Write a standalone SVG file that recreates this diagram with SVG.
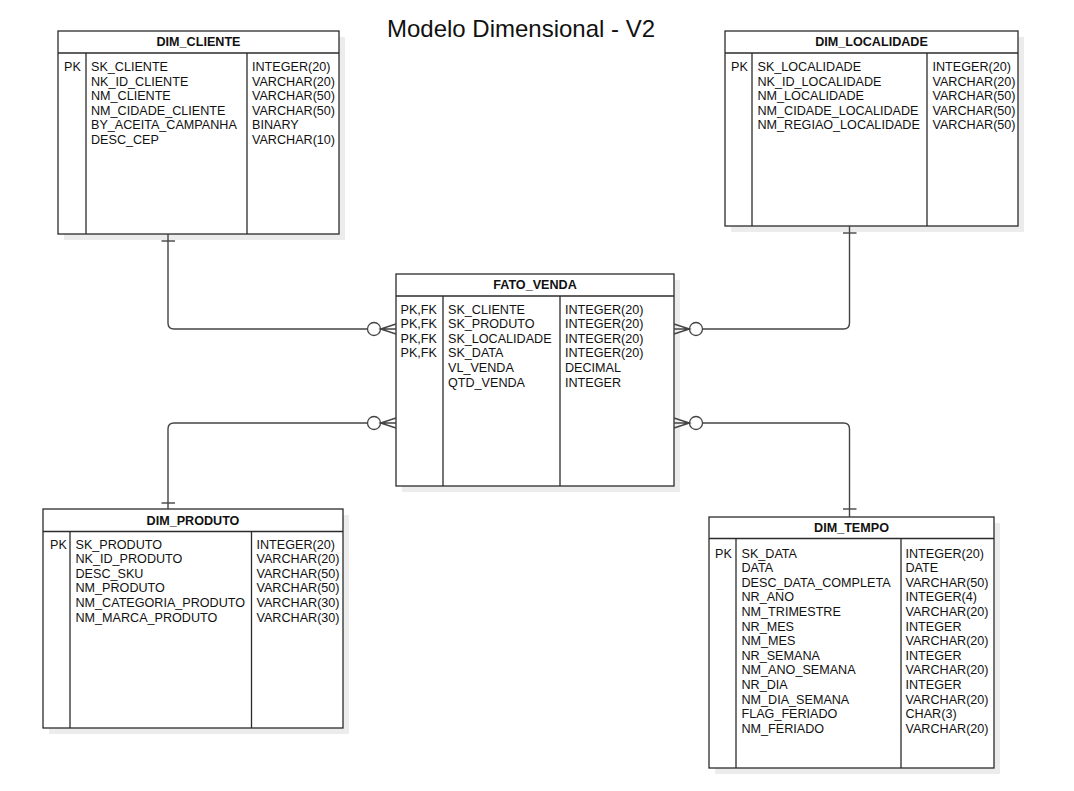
<svg xmlns="http://www.w3.org/2000/svg" width="1074" height="791" viewBox="0 0 1074 791">
<style>
.shadow{fill:#ececec;}
.box{fill:#ffffff;stroke:#2b2b2b;stroke-width:1.3;}
.div{stroke:#2b2b2b;stroke-width:1.3;fill:none;}
.hdr{font-family:"Liberation Sans",Arial,sans-serif;font-size:12.6px;font-weight:bold;fill:#111;text-anchor:middle;}
.t{font-family:"Liberation Sans",Arial,sans-serif;font-size:12.6px;fill:#111;}
.title{font-family:"Liberation Sans",Arial,sans-serif;font-size:24px;fill:#111;text-anchor:middle;}
.con{stroke:#444;stroke-width:1.4;fill:none;}
.circ{stroke:#444;stroke-width:1.3;fill:#fff;}
</style>
<rect width="1074" height="791" fill="#ffffff"/>
<text class="title" x="521" y="36.5">Modelo Dimensional - V2</text>

<g id="DIM_CLIENTE">
<rect class="shadow" x="64" y="37" width="281" height="203"/>
<rect class="box" x="58" y="31" width="281" height="203"/>
<line class="div" x1="58" y1="53" x2="339" y2="53"/>
<line class="div" x1="86" y1="53" x2="86" y2="234"/>
<line class="div" x1="247" y1="53" x2="247" y2="234"/>
<text class="hdr" x="198.5" y="46">DIM_CLIENTE</text>
<text class="t" x="64" y="71">PK</text>
<text class="t" x="91" y="71">SK_CLIENTE</text>
<text class="t" x="91" y="85.6">NK_ID_CLIENTE</text>
<text class="t" x="91" y="100.2">NM_CLIENTE</text>
<text class="t" x="91" y="114.8">NM_CIDADE_CLIENTE</text>
<text class="t" x="91" y="129.4">BY_ACEITA_CAMPANHA</text>
<text class="t" x="91" y="144">DESC_CEP</text>
<text class="t" x="252" y="71">INTEGER(20)</text>
<text class="t" x="252" y="85.6">VARCHAR(20)</text>
<text class="t" x="252" y="100.2">VARCHAR(50)</text>
<text class="t" x="252" y="114.8">VARCHAR(50)</text>
<text class="t" x="252" y="129.4">BINARY</text>
<text class="t" x="252" y="144">VARCHAR(10)</text>
</g>

<g id="DIM_LOCALIDADE">
<rect class="shadow" x="731" y="37" width="293" height="195"/>
<rect class="box" x="725" y="31" width="293" height="195"/>
<line class="div" x1="725" y1="53" x2="1018" y2="53"/>
<line class="div" x1="752" y1="53" x2="752" y2="226"/>
<line class="div" x1="927" y1="53" x2="927" y2="226"/>
<text class="hdr" x="871.5" y="46">DIM_LOCALIDADE</text>
<text class="t" x="731" y="71">PK</text>
<text class="t" x="757.5" y="71">SK_LOCALIDADE</text>
<text class="t" x="757.5" y="85.6">NK_ID_LOCALIDADE</text>
<text class="t" x="757.5" y="100.2">NM_LOCALIDADE</text>
<text class="t" x="757.5" y="114.8">NM_CIDADE_LOCALIDADE</text>
<text class="t" x="757.5" y="129.4">NM_REGIAO_LOCALIDADE</text>
<text class="t" x="932.5" y="71">INTEGER(20)</text>
<text class="t" x="932.5" y="85.6">VARCHAR(20)</text>
<text class="t" x="932.5" y="100.2">VARCHAR(50)</text>
<text class="t" x="932.5" y="114.8">VARCHAR(50)</text>
<text class="t" x="932.5" y="129.4">VARCHAR(50)</text>
</g>

<g id="FATO_VENDA">
<rect class="shadow" x="402" y="280" width="278" height="212"/>
<rect class="box" x="396" y="274" width="278" height="212"/>
<line class="div" x1="396" y1="296" x2="674" y2="296"/>
<line class="div" x1="443" y1="296" x2="443" y2="486"/>
<line class="div" x1="560" y1="296" x2="560" y2="486"/>
<text class="hdr" x="535" y="289">FATO_VENDA</text>
<text class="t" x="400.5" y="313.5">PK,FK</text>
<text class="t" x="400.5" y="328.1">PK,FK</text>
<text class="t" x="400.5" y="342.7">PK,FK</text>
<text class="t" x="400.5" y="357.3">PK,FK</text>
<text class="t" x="448" y="313.5">SK_CLIENTE</text>
<text class="t" x="448" y="328.1">SK_PRODUTO</text>
<text class="t" x="448" y="342.7">SK_LOCALIDADE</text>
<text class="t" x="448" y="357.3">SK_DATA</text>
<text class="t" x="448" y="371.9">VL_VENDA</text>
<text class="t" x="448" y="386.5">QTD_VENDA</text>
<text class="t" x="565" y="313.5">INTEGER(20)</text>
<text class="t" x="565" y="328.1">INTEGER(20)</text>
<text class="t" x="565" y="342.7">INTEGER(20)</text>
<text class="t" x="565" y="357.3">INTEGER(20)</text>
<text class="t" x="565" y="371.9">DECIMAL</text>
<text class="t" x="565" y="386.5">INTEGER</text>
</g>

<g id="DIM_PRODUTO">
<rect class="shadow" x="49" y="515" width="300" height="219"/>
<rect class="box" x="43" y="509" width="300" height="219"/>
<line class="div" x1="43" y1="531.5" x2="343" y2="531.5"/>
<line class="div" x1="70" y1="531.5" x2="70" y2="728"/>
<line class="div" x1="251.5" y1="531.5" x2="251.5" y2="728"/>
<text class="hdr" x="193" y="524.5">DIM_PRODUTO</text>
<text class="t" x="50" y="548.5">PK</text>
<text class="t" x="75.5" y="548.5">SK_PRODUTO</text>
<text class="t" x="75.5" y="563.1">NK_ID_PRODUTO</text>
<text class="t" x="75.5" y="577.7">DESC_SKU</text>
<text class="t" x="75.5" y="592.3">NM_PRODUTO</text>
<text class="t" x="75.5" y="606.9">NM_CATEGORIA_PRODUTO</text>
<text class="t" x="75.5" y="621.5">NM_MARCA_PRODUTO</text>
<text class="t" x="256.5" y="548.5">INTEGER(20)</text>
<text class="t" x="256.5" y="563.1">VARCHAR(20)</text>
<text class="t" x="256.5" y="577.7">VARCHAR(50)</text>
<text class="t" x="256.5" y="592.3">VARCHAR(50)</text>
<text class="t" x="256.5" y="606.9">VARCHAR(30)</text>
<text class="t" x="256.5" y="621.5">VARCHAR(30)</text>
</g>

<g id="DIM_TEMPO">
<rect class="shadow" x="715" y="523" width="285" height="251"/>
<rect class="box" x="709" y="517" width="285" height="251"/>
<line class="div" x1="709" y1="538.5" x2="994" y2="538.5"/>
<line class="div" x1="736" y1="538.5" x2="736" y2="768"/>
<line class="div" x1="901" y1="538.5" x2="901" y2="768"/>
<text class="hdr" x="851.5" y="532">DIM_TEMPO</text>
<text class="t" x="715" y="557.5">PK</text>
<text class="t" x="741.5" y="557.5">SK_DATA</text>
<text class="t" x="741.5" y="572.1">DATA</text>
<text class="t" x="741.5" y="586.7">DESC_DATA_COMPLETA</text>
<text class="t" x="741.5" y="601.3">NR_ANO</text>
<text class="t" x="741.5" y="615.9">NM_TRIMESTRE</text>
<text class="t" x="741.5" y="630.5">NR_MES</text>
<text class="t" x="741.5" y="645.1">NM_MES</text>
<text class="t" x="741.5" y="659.7">NR_SEMANA</text>
<text class="t" x="741.5" y="674.3">NM_ANO_SEMANA</text>
<text class="t" x="741.5" y="688.9">NR_DIA</text>
<text class="t" x="741.5" y="703.5">NM_DIA_SEMANA</text>
<text class="t" x="741.5" y="718.1">FLAG_FERIADO</text>
<text class="t" x="741.5" y="732.7">NM_FERIADO</text>
<text class="t" x="905.5" y="557.5">INTEGER(20)</text>
<text class="t" x="905.5" y="572.1">DATE</text>
<text class="t" x="905.5" y="586.7">VARCHAR(50)</text>
<text class="t" x="905.5" y="601.3">INTEGER(4)</text>
<text class="t" x="905.5" y="615.9">VARCHAR(20)</text>
<text class="t" x="905.5" y="630.5">INTEGER</text>
<text class="t" x="905.5" y="645.1">VARCHAR(20)</text>
<text class="t" x="905.5" y="659.7">INTEGER</text>
<text class="t" x="905.5" y="674.3">VARCHAR(20)</text>
<text class="t" x="905.5" y="688.9">INTEGER</text>
<text class="t" x="905.5" y="703.5">VARCHAR(20)</text>
<text class="t" x="905.5" y="718.1">CHAR(3)</text>
<text class="t" x="905.5" y="732.7">VARCHAR(20)</text>
</g>

<g id="connectors">
<!-- DIM_CLIENTE to FATO_VENDA -->
<path class="con" d="M168,234 V323 Q168,329 174,329 H367.5"/>
<line class="con" x1="161.5" y1="241" x2="175" y2="241"/>
<circle class="circ" cx="374" cy="329" r="6.5"/>
<path class="con" d="M396,324 L380.5,329 L396,334 M380.5,329 H396"/>
<!-- DIM_PRODUTO to FATO_VENDA -->
<path class="con" d="M168,509 V429 Q168,423 174,423 H367.5"/>
<line class="con" x1="161.5" y1="503" x2="175" y2="503"/>
<circle class="circ" cx="374" cy="423" r="6.5"/>
<path class="con" d="M396,418 L380.5,423 L396,428 M380.5,423 H396"/>
<!-- DIM_LOCALIDADE to FATO_VENDA -->
<path class="con" d="M849.5,226 V323 Q849.5,329 843.5,329 H702.5"/>
<line class="con" x1="843" y1="233" x2="856.5" y2="233"/>
<circle class="circ" cx="696" cy="329" r="6.5"/>
<path class="con" d="M674,324 L689.5,329 L674,334 M689.5,329 H674"/>
<!-- DIM_TEMPO to FATO_VENDA -->
<path class="con" d="M849.5,517 V429 Q849.5,423 843.5,423 H702.5"/>
<line class="con" x1="843" y1="509" x2="856.5" y2="509"/>
<circle class="circ" cx="696" cy="423" r="6.5"/>
<path class="con" d="M674,418 L689.5,423 L674,428 M689.5,423 H674"/>
</g>
</svg>
